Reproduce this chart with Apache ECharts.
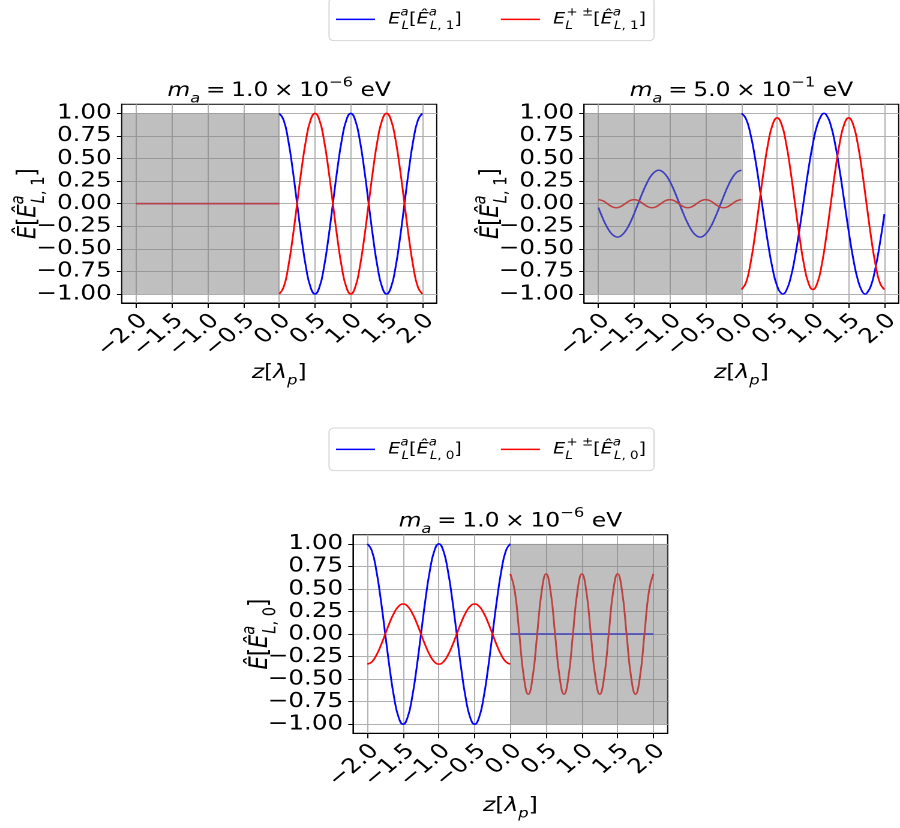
<!DOCTYPE html>
<html>
<head>
<meta charset="utf-8">
<script src="https://cdn.jsdelivr.net/npm/echarts@6/dist/echarts.min.js"></script>
<style>
html, body { margin: 0; padding: 0; background: #ffffff; overflow: hidden; }
/* The figure is laid out 750 px wide and widened to 900 px on screen */
#chart { width: 750px; height: 828px; transform: scaleX(1.2); transform-origin: 0 0; }
</style>
</head>
<body>
<div id="chart"></div>
<script>
// Sample positions along z (in units of lambda_p)
const zNeg = [-2, -1.9375, -1.875, -1.8125, -1.75, -1.6875, -1.625, -1.5625, -1.5, -1.4375, -1.375, -1.3125,
  -1.25, -1.1875, -1.125, -1.0625, -1, -0.9375, -0.875, -0.8125, -0.75, -0.6875, -0.625, -0.5625,
  -0.5, -0.4375, -0.375, -0.3125, -0.25, -0.1875, -0.125, -0.0625, 0];
const zPos = [0, 0.0625, 0.125, 0.1875, 0.25, 0.3125, 0.375, 0.4375, 0.5, 0.5625, 0.625, 0.6875,
  0.75, 0.8125, 0.875, 0.9375, 1, 1.0625, 1.125, 1.1875, 1.25, 1.3125, 1.375, 1.4375,
  1.5, 1.5625, 1.625, 1.6875, 1.75, 1.8125, 1.875, 1.9375, 2];
// Same grids with the extrema of the m_a = 0.5 eV blue curve added
const zNegB = [-2, -1.9375, -1.875, -1.8125, -1.75, -1.7325, -1.6875, -1.625, -1.5625, -1.5, -1.4375, -1.375, -1.3125,
  -1.25, -1.1875, -1.155, -1.125, -1.0625, -1, -0.9375, -0.875, -0.8125, -0.75, -0.6875, -0.625, -0.5775, -0.5625,
  -0.5, -0.4375, -0.375, -0.3125, -0.25, -0.1875, -0.125, -0.0625, 0];
const zPosB = [0, 0.0625, 0.125, 0.1875, 0.25, 0.3125, 0.375, 0.4375, 0.5, 0.5625, 0.5775, 0.625, 0.6875,
  0.75, 0.8125, 0.875, 0.9375, 1, 1.0625, 1.125, 1.155, 1.1875, 1.25, 1.3125, 1.375, 1.4375,
  1.5, 1.5625, 1.625, 1.6875, 1.7325, 1.75, 1.8125, 1.875, 1.9375, 2];

// Tick positions
const xTicks = [-2, -1.5, -1, -0.5, 0, 0.5, 1, 1.5, 2];
const yTicks = [-1, -0.75, -0.5, -0.25, 0, 0.25, 0.5, 0.75, 1];

// Panel 1: m_a = 1.0e-6 eV, E_{L,1}
const p1BlueNeg = [0, 0, 0, 0, 0, 0, 0, 0, 0, 0, 0, 0, 0, 0, 0, 0, 0, 0, 0, 0, 0, 0, 0, 0, 0, 0, 0, 0, 0, 0, 0, 0, 0];
const p1RedNeg = [0, 0, 0, 0, 0, 0, 0, 0, 0, 0, 0, 0, 0, 0, 0, 0, 0, 0, 0, 0, 0, 0, 0, 0, 0, 0, 0, 0, 0, 0, 0, 0, 0];
const p1BluePos = [1, 0.924, 0.707, 0.383, 0, -0.383, -0.707, -0.924, -1, -0.924, -0.707, -0.383, 0, 0.383, 0.707, 0.924,
  1, 0.924, 0.707, 0.383, 0, -0.383, -0.707, -0.924, -1, -0.924, -0.707, -0.383, 0, 0.383, 0.707, 0.924, 1];
const p1RedPos = [-1, -0.924, -0.707, -0.383, 0, 0.383, 0.707, 0.924, 1, 0.924, 0.707, 0.383, 0, -0.383, -0.707, -0.924,
  -1, -0.924, -0.707, -0.383, 0, 0.383, 0.707, 0.924, 1, 0.924, 0.707, 0.383, 0, -0.383, -0.707, -0.924, -1];

// Panel 2: m_a = 5.0e-1 eV, E_{L,1}
const p2BlueNeg = [-0.043, -0.163, -0.264, -0.336, -0.368, -0.370, -0.359, -0.308, -0.223, -0.112, 0.013, 0.135, 0.242,
  0.322, 0.364, 0.370, 0.365, 0.324, 0.246, 0.140, 0.017, -0.107, -0.218, -0.306, -0.358, -0.370, -0.369,
  -0.337, -0.268, -0.167, -0.048, 0.077, 0.194, 0.288, 0.349, 0.370];
const p2RedNeg = [0.045, 0.032, 0, -0.032, -0.045, -0.032, 0, 0.032, 0.045, 0.032, 0, -0.032, -0.045, -0.032, 0, 0.032,
  0.045, 0.032, 0, -0.032, -0.045, -0.032, 0, 0.032, 0.045, 0.032, 0, -0.032, -0.045, -0.032, 0, 0.032, 0.045];
const p2BluePos = [1, 0.943, 0.778, 0.523, 0.209, -0.129, -0.452, -0.724, -0.912, -0.997, -1, -0.967, -0.826,
  -0.589, -0.288, 0.047, 0.378, 0.665, 0.875, 0.986, 1, 0.984, 0.869, 0.655, 0.366, 0.034,
  -0.302, -0.602, -0.833, -0.970, -1, -0.995, -0.909, -0.712, -0.438, -0.115];
const p2RedPos = [-0.95, -0.878, -0.672, -0.364, 0, 0.364, 0.672, 0.878, 0.95, 0.878, 0.672, 0.364, 0, -0.364, -0.672, -0.878,
  -0.95, -0.878, -0.672, -0.364, 0, 0.364, 0.672, 0.878, 0.95, 0.878, 0.672, 0.364, 0, -0.364, -0.672, -0.878, -0.95];

// Panel 3: m_a = 1.0e-6 eV, E_{L,0}
const p3BlueNeg = [1, 0.924, 0.707, 0.383, 0, -0.383, -0.707, -0.924, -1, -0.924, -0.707, -0.383, 0, 0.383, 0.707, 0.924,
  1, 0.924, 0.707, 0.383, 0, -0.383, -0.707, -0.924, -1, -0.924, -0.707, -0.383, 0, 0.383, 0.707, 0.924, 1];
const p3RedNeg = [-0.333, -0.308, -0.236, -0.128, 0, 0.128, 0.236, 0.308, 0.333, 0.308, 0.236, 0.128, 0, -0.128, -0.236, -0.308,
  -0.333, -0.308, -0.236, -0.128, 0, 0.128, 0.236, 0.308, 0.333, 0.308, 0.236, 0.128, 0, -0.128, -0.236, -0.308, -0.333];
const p3BluePos = [0, 0, 0, 0, 0, 0, 0, 0, 0, 0, 0, 0, 0, 0, 0, 0, 0, 0, 0, 0, 0, 0, 0, 0, 0, 0, 0, 0, 0, 0, 0, 0, 0];
const p3RedPos = [0.667, 0.472, 0, -0.472, -0.667, -0.472, 0, 0.472, 0.667, 0.472, 0, -0.472, -0.667, -0.472, 0, 0.472,
  0.667, 0.472, 0, -0.472, -0.667, -0.472, 0, 0.472, 0.667, 0.472, 0, -0.472, -0.667, -0.472, 0, 0.472, 0.667];

// Shaded (evanescent) region of each panel: [zFrom, zTo]
const shade = [[-2.2, 0], [-2.2, 0], [0, 2.2]];

const FONT = 'DejaVu Sans';
const BLUE = '#0000ff';
const RED = '#ff0000';
const FS_TITLE = 19.5;
const FS_TICK = 20.5;
const FS_YNAME = 21;
const FS_XNAME = 19.5;
const FS_LEGEND = 16;

// Rich-text styles emulating math notation (italic symbols, stacked scripts)
function mathRich(fs) {
  const s = fs * 0.7;
  const lh = fs * 1.54;
  const supLh = fs * 0.69;
  const subLh = fs * 0.92;
  const base = { fontFamily: FONT, color: '#000', align: 'left', fontWeight: 'normal' };
  return {
    it: Object.assign({}, base, { fontStyle: 'italic', fontSize: fs, lineHeight: lh }),
    n: Object.assign({}, base, { fontSize: fs, lineHeight: lh }),
    sp: Object.assign({}, base, { fontSize: fs, lineHeight: lh, width: fs * 0.24 }),
    supI: Object.assign({}, base, { fontStyle: 'italic', fontSize: s, lineHeight: supLh, verticalAlign: 'top' }),
    supIw: Object.assign({}, base, { fontStyle: 'italic', fontSize: s, lineHeight: supLh, verticalAlign: 'top', width: 1 }),
    supN: Object.assign({}, base, { fontSize: s, lineHeight: supLh, verticalAlign: 'top' }),
    subI: Object.assign({}, base, { fontStyle: 'italic', fontSize: s, lineHeight: subLh, verticalAlign: 'bottom' }),
    subIw: Object.assign({}, base, { fontStyle: 'italic', fontSize: s, lineHeight: subLh, verticalAlign: 'bottom', width: 1 }),
    subN: Object.assign({}, base, { fontSize: s, lineHeight: subLh, verticalAlign: 'bottom' })
  };
}

const titleTexts = [
  '{it|m}{subI|a}{sp| }{n|=}{sp| }{n|1.0}{sp| }{n|×}{sp| }{n|10}{supN|−6}{n| eV}',
  '{it|m}{subI|a}{sp| }{n|=}{sp| }{n|5.0}{sp| }{n|×}{sp| }{n|10}{supN|−1}{n| eV}',
  '{it|m}{subI|a}{sp| }{n|=}{sp| }{n|1.0}{sp| }{n|×}{sp| }{n|10}{supN|−6}{n| eV}'
];
const yNames = [
  '{it|Ê}{n|[}{it|Ê}{supIw|a}{subI|L}{subN|, 1}{n|]}',
  '{it|Ê}{n|[}{it|Ê}{supIw|a}{subI|L}{subN|, 1}{n|]}',
  '{it|Ê}{n|[}{it|Ê}{supIw|a}{subI|L}{subN|, 0}{n|]}'
];
const xName = '{it|z}{n|[}{it|λ}{subI|p}{n|]}';

const legendLabels = {
  'Ea1': '{gap| }{it|E}{supIw|a}{subI|L}{n|[}{it|Ê}{supIw|a}{subI|L}{subN|, 1}{n|]}',
  'Epm1': '{gap| }{it|E}{subIw|L}{supN|+ ±}{n|[}{it|Ê}{supIw|a}{subI|L}{subN|, 1}{n|]}',
  'Ea0': '{gap| }{it|E}{supIw|a}{subI|L}{n|[}{it|Ê}{supIw|a}{subI|L}{subN|, 0}{n|]}',
  'Epm0': '{gap| }{it|E}{subIw|L}{supN|+ ±}{n|[}{it|Ê}{supIw|a}{subI|L}{subN|, 0}{n|]}'
};

// Plot-area rectangles (layout pixels, before the horizontal widening)
const grids = [
  { left: 101.4, top: 104.3, width: 262.5, height: 198.7 },
  { left: 486.7, top: 104.3, width: 262.2, height: 198.7 },
  { left: 294.2, top: 534.8, width: 262.2, height: 198.5 }
];
const xNameGaps = [55, 55, 57.5];

const minusFmt = (v, d) => (v < 0 ? '\u2212' : '') + Math.abs(v).toFixed(d);

const panels = [
  { z: [zNeg, zPos, zNeg, zPos], blue: [p1BlueNeg, p1BluePos], red: [p1RedNeg, p1RedPos], names: ['Ea1', 'Epm1'] },
  { z: [zNegB, zPosB, zNeg, zPos], blue: [p2BlueNeg, p2BluePos], red: [p2RedNeg, p2RedPos], names: ['Ea1', 'Epm1'] },
  { z: [zNeg, zPos, zNeg, zPos], blue: [p3BlueNeg, p3BluePos], red: [p3RedNeg, p3RedPos], names: ['Ea0', 'Epm0'] }
];

const pairs = (xs, ys) => xs.map((x, i) => [x, ys[i]]);

const option = {
  backgroundColor: '#ffffff',
  animation: false,
  textStyle: { fontFamily: FONT },
  title: titleTexts.map((t, i) => ({
    text: t,
    left: grids[i].left + grids[i].width / 2,
    top: i < 2 ? 76 : 506.5,
    textAlign: 'center',
    padding: 0,
    textStyle: { fontWeight: 'normal', rich: mathRich(FS_TITLE) }
  })),
  legend: [
    { top: -2, names: ['Ea1', 'Epm1'] },
    { top: 428, names: ['Ea0', 'Epm0'] }
  ].map(l => ({
    data: l.names,
    left: 274.2,
    top: l.top,
    orient: 'horizontal',
    icon: 'rect',
    itemWidth: 32.5,
    itemHeight: 1.5,
    itemGap: 32.5,
    padding: [9, 6.7, 9, 5.8],
    backgroundColor: '#ffffff',
    borderColor: '#d6d6d6',
    borderWidth: 1,
    borderRadius: 4,
    formatter: name => legendLabels[name],
    textStyle: {
      rich: Object.assign(mathRich(FS_LEGEND), {
        gap: { fontSize: FS_LEGEND, width: 6, lineHeight: 24, align: 'left' }
      })
    }
  })),
  grid: grids.map(g => Object.assign({
    show: true,
    borderColor: '#000000',
    borderWidth: 1,
    backgroundColor: 'transparent',
    containLabel: false,
    outerBoundsMode: 'none'
  }, g)),
  xAxis: grids.map((g, i) => ({
    type: 'value',
    gridIndex: i,
    min: -2.2,
    max: 2.2,
    position: 'bottom',
    name: xName,
    nameLocation: 'middle',
    nameGap: xNameGaps[i],
    nameMoveOverlap: false,
    nameTextStyle: { rich: mathRich(FS_XNAME) },
    axisLine: { show: true, onZero: false, lineStyle: { color: '#000', width: 1 } },
    axisTick: { show: true, inside: false, length: 5, customValues: xTicks, lineStyle: { color: '#000', width: 1 } },
    axisLabel: {
      customValues: xTicks,
      rotate: 45,
      margin: 21,
      padding: [0, -9, 0, 0],
      fontFamily: FONT,
      fontSize: FS_TICK,
      color: '#000',
      formatter: v => minusFmt(v, 1)
    },
    splitLine: { show: true, lineStyle: { color: '#b0b0b0', width: 1 } }
  })),
  yAxis: grids.map((g, i) => ({
    type: 'value',
    gridIndex: i,
    min: -1.1,
    max: 1.1,
    name: yNames[i],
    nameLocation: 'middle',
    nameRotate: 90,
    nameGap: 61,
    nameMoveOverlap: false,
    nameTextStyle: { rich: mathRich(FS_YNAME) },
    axisLine: { show: true, onZero: false, lineStyle: { color: '#000', width: 1 } },
    axisTick: { show: true, inside: false, length: 4, customValues: yTicks, lineStyle: { color: '#000', width: 1 } },
    axisLabel: {
      customValues: yTicks,
      margin: 8.3,
      fontFamily: FONT,
      fontSize: FS_TICK,
      color: '#000',
      formatter: v => minusFmt(v, 2)
    },
    splitLine: { show: true, lineStyle: { color: '#b0b0b0', width: 1 } }
  })),
  series: []
};

panels.forEach((p, i) => {
  [[p.blue, BLUE, p.names[0], 0], [p.red, RED, p.names[1], 2]].forEach(([parts, color, name, zi]) => {
    [0, 1].forEach(k => {
      option.series.push({
        type: 'line',
        name: name,
        xAxisIndex: i,
        yAxisIndex: i,
        data: pairs(p.z[zi + k], parts[k]),
        smooth: 0.5,
        showSymbol: false,
        symbol: 'none',
        lineStyle: { color: color, width: 1.5 },
        itemStyle: { color: color },
        z: 2
      });
    });
  });
  // Semi-transparent grey band drawn over the curves
  option.series.push({
    type: 'line',
    name: 'shade' + i,
    xAxisIndex: i,
    yAxisIndex: i,
    data: [],
    silent: true,
    markArea: {
      silent: true,
      z: 4,
      itemStyle: { color: 'rgba(128,128,128,0.5)', borderWidth: 0 },
      data: [[{ xAxis: shade[i][0], yAxis: -1 }, { xAxis: shade[i][1], yAxis: 1 }]]
    }
  });
});

const chart = echarts.init(document.getElementById('chart'), null, { renderer: 'canvas', devicePixelRatio: 2 });
chart.setOption(option);
</script>
</body>
</html>
